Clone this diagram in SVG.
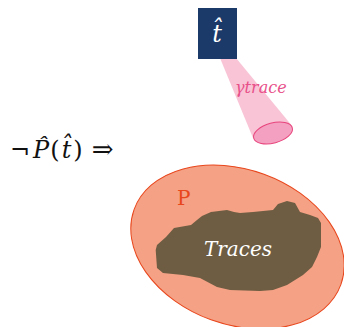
<svg xmlns="http://www.w3.org/2000/svg" width="344" height="327" viewBox="0 0 344 327">
<style>
text{font-family:'DejaVu Serif','Liberation Serif',serif}
.m{font-style:italic}
</style>
<rect width="344" height="327" fill="#fff"/>
<g id="formula">
<text x="10" y="158" font-size="24" fill="#111">¬<tspan class="m" dx="3">P̂</tspan><tspan dx="1">(</tspan><tspan class="m" dx="2">t̂</tspan><tspan dx="2">)</tspan><tspan dx="9" font-size="26">⇒</tspan></text>
</g>
<g id="P">
<ellipse cx="237.5" cy="247" rx="110" ry="77.5" transform="rotate(20 237.5 247)" fill="#f4a185" stroke="#e8461c" stroke-width="1"/>
<text x="177" y="205" font-size="20" fill="#e8461c">P</text>
</g>
<g id="traces">
<path d="M155.7,250 L157,268 L163,273 L183,275 L200,278 L217,287 L230,290 L260,291 L273,290 L287,285 L303,275 L312,267 L317,257 L321,247 L321,223 L318,218 L310,215 L300,212 L295,203 L287,201 L278,204 L273,210 L253,212 L240,213 L234,212 L227,210 L211,212 L202,216 L197,220 L191,225 L174,228 L166,237 L157,245 Z" fill="#6e5d42"/>
<text class="m" x="238" y="256" font-size="20" fill="#fff" text-anchor="middle">Traces</text>
</g>
<g id="connectors">
<path d="M220,58 L236,58 L293,127 L253,138 Z" fill="#f8c4d6"/>
<ellipse cx="273" cy="133" rx="20" ry="10" transform="rotate(-15 273 133)" fill="#f4a0c0" stroke="#e8457d" stroke-width="1"/>
<text class="m" x="235" y="93" font-size="16" fill="#e8508a">γtrace</text>
</g>
<g id="t">
<rect x="198" y="8" width="39" height="51" fill="#1b3a6a"/>
<text class="m" x="217" y="42" font-size="24" fill="#fff" text-anchor="middle">t̂</text>
</g>
</svg>
